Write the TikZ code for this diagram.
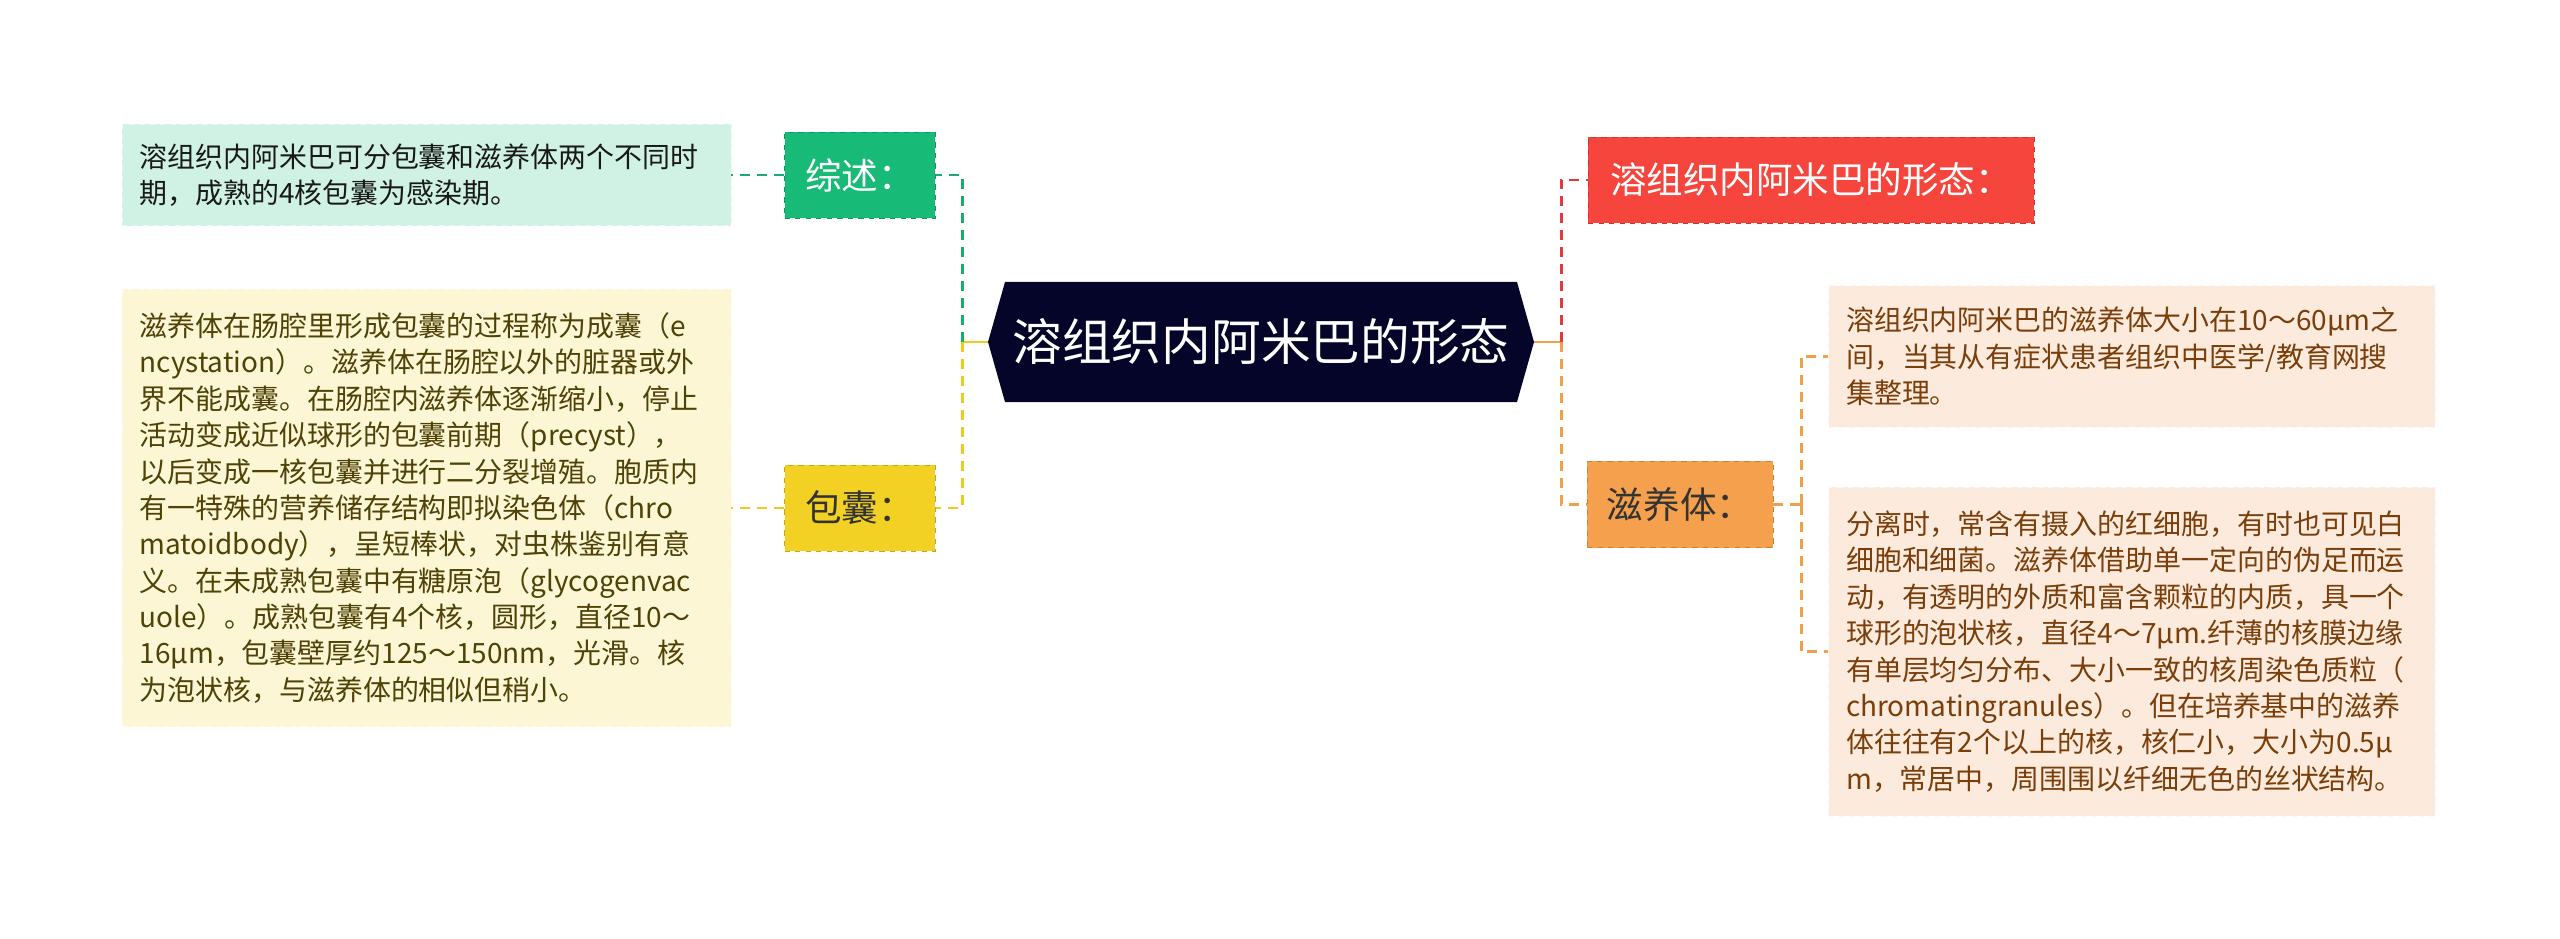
\documentclass[tikz,border=0pt]{standalone}
\usepackage{fontspec}
\setmainfont{Noto Sans CJK SC}
\definecolor{rootbg}{HTML}{05052A}
\definecolor{greenbox}{HTML}{17BA77}
\definecolor{greenline}{HTML}{16AE70}
\definecolor{greenpale}{HTML}{D0F2E4}
\definecolor{yellowbox}{HTML}{F2D024}
\definecolor{yellowline}{HTML}{EFCB1E}
\definecolor{yellowpale}{HTML}{FCF6D5}
\definecolor{yellowtext}{HTML}{4F4207}
\definecolor{redbox}{HTML}{F5453D}
\definecolor{redline}{HTML}{E23B3B}
\definecolor{orangebox}{HTML}{F5A04C}
\definecolor{orangeline}{HTML}{EFA04C}
\definecolor{peach}{HTML}{FCEBDC}
\definecolor{browntext}{HTML}{7A3E0B}
\usetikzlibrary{positioning}

\begin{document}
\begin{tikzpicture}[x=0.02cm, y=-0.02cm,
  every node/.style={font=\fontsize{15.9}{20.7}\selectfont},
  topic/.style={rectangle, fill=#1, draw=#1!80!black, dashed, line width=0.5pt,
    font=\fontsize{20.8}{24}\selectfont, inner sep=0pt, minimum height=49pt},
  note/.style={rectangle, fill=#1, draw=white!55!#1, dashed, line width=0.5pt,
    align=left, inner xsep=10pt, inner ysep=0pt},
  link/.style={line width=1.7pt, draw=#1, dash pattern=on 5.7pt off 4pt},
  stub/.style={line width=1.7pt, draw=#1}]

  \useasboundingbox (0,0) rectangle (2560,939);

  % Central topic
  \fill[rootbg, shift={(1261,342)}] (-273,0) -- (-256,-60) -- (256,-60) -- (273,0)
    -- (256,60) -- (-256,60) -- cycle;
  \node[minimum width=310.7pt, minimum height=68.3pt, inner sep=0pt, text=white,
    font=\fontsize{28.3}{32}\selectfont] (root) at (1261,342) {溶组织内阿米巴的形态};

  % Left branches
  \node[topic=greenbox, text=white, minimum width=85.9pt] (summary) at (860,175) {综述：};
  \node[note=greenpale, text width=326.6pt, minimum height=57.5pt, text=black!90] (summarytext) at (426.5,175)
    {溶组织内阿米巴可分包囊和滋养体两个不同时\\期，成熟的4核包囊为感染期。};

  \node[topic=yellowbox, text=black!80, minimum width=85.9pt] (cyst) at (860,508) {包囊：};
  \node[note=yellowpale, text width=326.6pt, minimum height=249.2pt, text=yellowtext] (cysttext) at (426.5,508)
    {滋养体在肠腔里形成包囊的过程称为成囊（e\\
     ncystation）。滋养体在肠腔以外的脏器或外\\
     界不能成囊。在肠腔内滋养体逐渐缩小，停止\\
     活动变成近似球形的包囊前期（precyst），\\
     以后变成一核包囊并进行二分裂增殖。胞质内\\
     有一特殊的营养储存结构即拟染色体（chro\\
     matoidbody），呈短棒状，对虫株鉴别有意\\
     义。在未成熟包囊中有糖原泡（glycogenvac\\
     uole）。成熟包囊有4个核，圆形，直径10～\\
     16μm，包囊壁厚约125～150nm，光滑。核\\
     为泡状核，与滋养体的相似但稍小。};

  % Right branches
  \node[topic=redbox, text=white, minimum width=253.8pt] (shape) at (1811,180) {溶组织内阿米巴的形态：};
  \node[topic=orangebox, text=black!80, minimum width=105.8pt] (troph) at (1680,504.5) {滋养体：};

  \node[note=peach, text width=325.4pt, minimum height=80.8pt, text=browntext] (trophsize) at (2132,356.5)
    {溶组织内阿米巴的滋养体大小在10～60μm之\\
     间，当其从有症状患者组织中医学/教育网搜\\
     集整理。};
  \node[note=peach, text width=325.4pt, minimum height=187.2pt, text=browntext] (trophbody) at (2132,651.5)
    {分离时，常含有摄入的红细胞，有时也可见白\\
     细胞和细菌。滋养体借助单一定向的伪足而运\\
     动，有透明的外质和富含颗粒的内质，具一个\\
     球形的泡状核，直径4～7μm.纤薄的核膜边缘\\
     有单层均匀分布、大小一致的核周染色质粒（\\
     chromatingranules）。但在培养基中的滋养\\
     体往往有2个以上的核，核仁小，大小为0.5μ\\
     m，常居中，周围围以纤细无色的丝状结构。};

  % Connectors
  \coordinate (lhub) at (962,342);
  \coordinate (rhub) at (1561,342);
  \coordinate (thub) at (1801,504.5);

  \draw[stub=yellowline] (root.west) -- (lhub);
  \draw[link=greenline] (lhub) |- (summary.east);
  \draw[link=yellowline] (lhub) |- (cyst.east);
  \draw[link=greenline] (summary.west) -- (summarytext.east);
  \draw[link=yellowline] (cyst.west) -- (cysttext.east);

  \draw[stub=orangeline] (root.east) -- (rhub);
  \draw[link=redline] (rhub) |- (shape.west);
  \draw[link=orangeline] (rhub) |- (troph.west);
  \draw[link=orangeline] (troph.east) -- (thub);
  \draw[link=orangeline] (thub) |- (trophsize.west);
  \draw[link=orangeline] (thub) |- (trophbody.west);
\end{tikzpicture}
\end{document}
